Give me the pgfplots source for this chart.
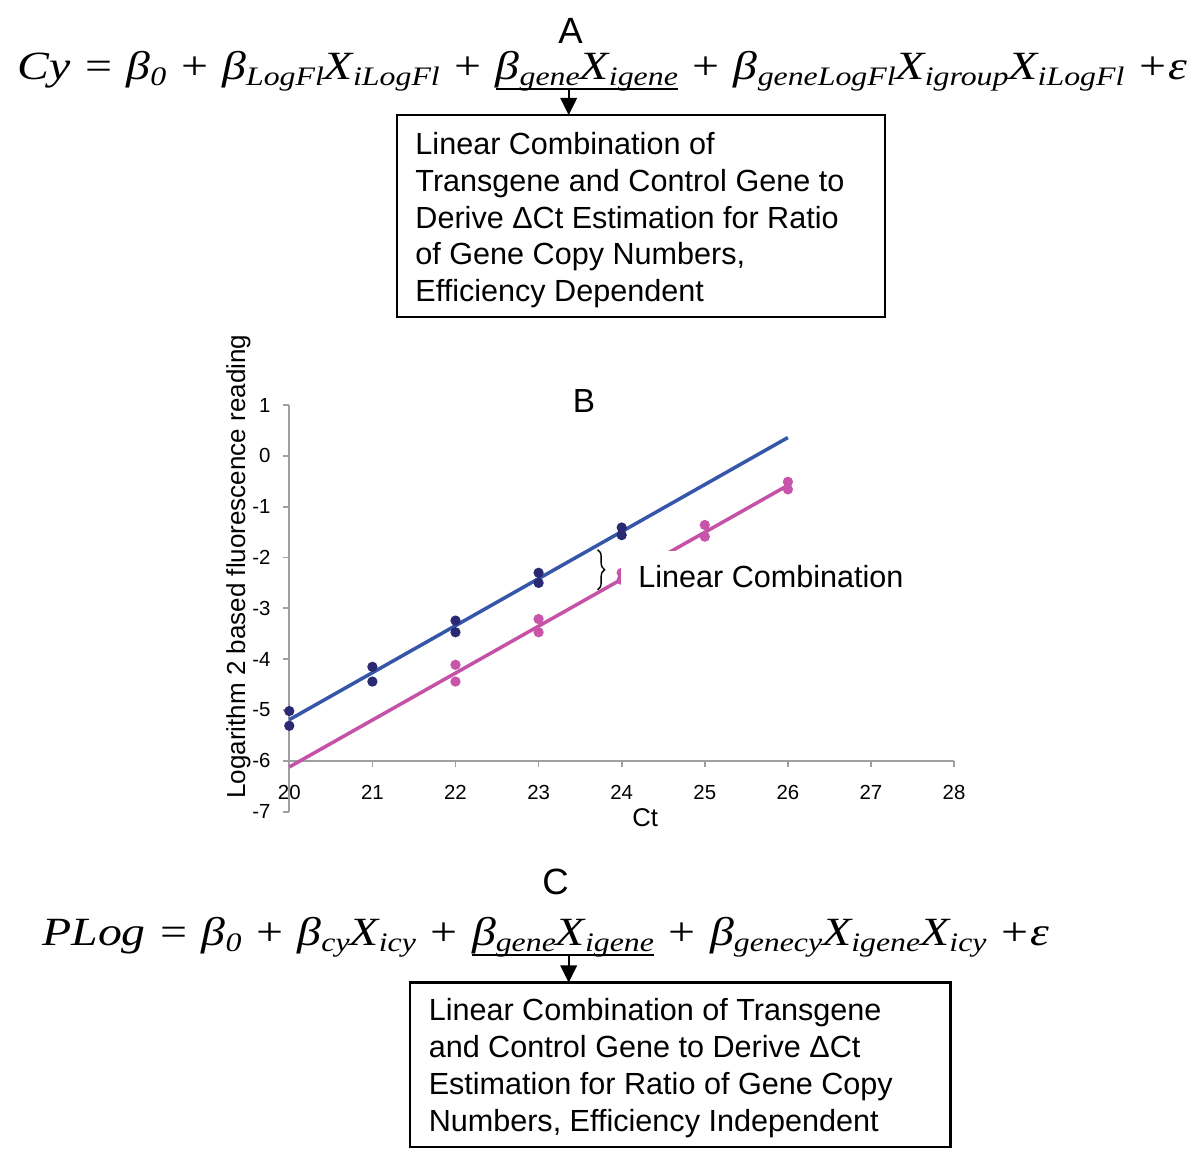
\documentclass[border=0pt]{standalone}
\usepackage{fontspec}
\setmainfont{Liberation Sans}
\newfontfamily\eqf{Liberation Serif}
\usepackage{graphicx}
\usepackage{pgfplots}
\pgfplotsset{compat=1.18}
\usetikzlibrary{decorations.pathreplacing}

\definecolor{bline}{HTML}{3656AA}
\definecolor{bdot}{HTML}{2A2A72}
\definecolor{pline}{HTML}{C552A6}
\definecolor{pdot}{HTML}{C955AA}

% subscript and underline used in the two equations
\newcommand\sub[1]{\raisebox{-1.7pt}{\fontsize{7.6}{8}\selectfont #1}}
\newcommand\ul[1]{\setbox0\hbox{#1}\rlap{\rule[-3.0pt]{\wd0}{0.6pt}}\box0\relax}
\newcommand\fs[1]{\fontsize{#1}{#1}\selectfont}

\begin{document}
\begin{tikzpicture}
\useasboundingbox (0,0) rectangle (12cm,-11.62cm);

\begin{axis}[
    at={(2.893cm,-8.117cm)}, anchor=south west,
    x=0.831cm, y=0.5084cm,
    xmin=20, xmax=28, ymin=-7, ymax=1,
    axis lines=left,
    axis x line shift=-0.5084cm,
    axis line style={-, draw=gray!75, line width=0.5pt},
    xtick={20,...,28}, ytick={-7,...,1},
    tick align=outside, major tick length=0.065cm,
    tick style={gray!75, line width=0.5pt},
    ticklabel style={font=\fs{5.8}},
    xticklabel style={yshift=-0.05cm},
    /pgf/number format/assume math mode=true,
    clip=false,
]
% fitted lines
\addplot[bline, line width=1pt] coordinates {(20,-5.19) (26,0.36)};
\addplot[pline, line width=1pt] coordinates {(20,-6.12) (26,-0.58)};
% control gene readings
\addplot[only marks, mark=*, mark size=1.25pt, color=bdot] coordinates {
  (20,-5.02) (20,-5.31) (21,-4.15) (21,-4.44) (22,-3.24)
  (22,-3.47) (23,-2.30) (23,-2.50) (24,-1.41) (24,-1.56)};
% transgene readings
\addplot[only marks, mark=*, mark size=1.25pt, color=pdot] coordinates {
  (22,-4.11) (22,-4.44) (23,-3.21) (23,-3.47) (24,-2.30)
  (24,-2.44) (25,-1.36) (25,-1.59) (26,-0.51) (26,-0.66)};
\end{axis}

\begin{scope}[x=0.01cm, y=-0.01cm]
  % --- panel A
  \node[anchor=base, inner sep=0, font=\fs{10.4}] at (571,43.3) {A};
  \node[anchor=base west, inner sep=0] at (16.7,79.3) {\resizebox{11.70cm}{\height}{\eqf\itshape\fs{11.4}%
    Cy = β\sub{0} + β\sub{LogFl}X\sub{iLogFl} + \ul{β\sub{gene}X\sub{igene}} + β\sub{geneLogFl}X\sub{igroup}X\sub{iLogFl} +ε}};
  \draw[line width=0.6pt] (569,89) -- (569,100);
  \fill (560.5,98) -- (577.5,98) -- (569,115) -- cycle;
  \draw[line width=0.6pt] (397,115) rectangle (885.5,317.5);
  \begin{scope}[every node/.style={anchor=base west, inner sep=0, font=\fs{8.7}}]
    \node at (415,155) {Linear Combination of};
    \node at (415,191.7) {Transgene and Control Gene to};
    \node at (415,228.3) {Derive ΔCt Estimation for Ratio};
    \node at (415,265) {of Gene Copy Numbers,};
    \node at (415,301.7) {Efficiency Dependent};
  \end{scope}

  % --- panel B labels
  \node[anchor=base, inner sep=0, font=\fs{9.5}] at (584.3,412.3) {B};
  \node[rotate=90, inner sep=0, font=\fs{7.4}] at (238.5,567) {Logarithm 2 based fluorescence reading};
  \node[anchor=base, inner sep=0, font=\fs{7.3}] at (645.5,826.5) {Ct};
  \fill[white] (621,551) rectangle (915,606);
  \node[anchor=base west, inner sep=0, font=\fs{8.7}] at (638,588.3) {Linear Combination};
  \draw[line width=0.4pt, decorate, decoration={brace, amplitude=0.07cm}] (598,550) -- (598,590);

  % --- panel C
  \node[anchor=base, inner sep=0, font=\fs{10.4}] at (556,895) {C};
  \node[anchor=base west, inner sep=0] at (41.7,946) {\resizebox{10.07cm}{\height}{\eqf\itshape\fs{11.4}%
    PLog = β\sub{0} + β\sub{cy}X\sub{icy} + \ul{β\sub{gene}X\sub{igene}} + β\sub{genecy}X\sub{igene}X\sub{icy} +ε}};
  \draw[line width=0.6pt] (569,956) -- (569,968);
  \fill (560.5,966) -- (577.5,966) -- (569,983) -- cycle;
  \draw[line width=0.6pt] (410,983) rectangle (951,1147.3);
  \begin{scope}[every node/.style={anchor=base west, inner sep=0, font=\fs{8.7}}]
    \node at (428.3,1021) {Linear Combination of Transgene};
    \node at (428.3,1058.3) {and Control Gene to Derive ΔCt};
    \node at (428.3,1095) {Estimation for Ratio of Gene Copy};
    \node at (428.3,1131.7) {Numbers, Efficiency Independent};
  \end{scope}
\end{scope}
\end{tikzpicture}
\end{document}
